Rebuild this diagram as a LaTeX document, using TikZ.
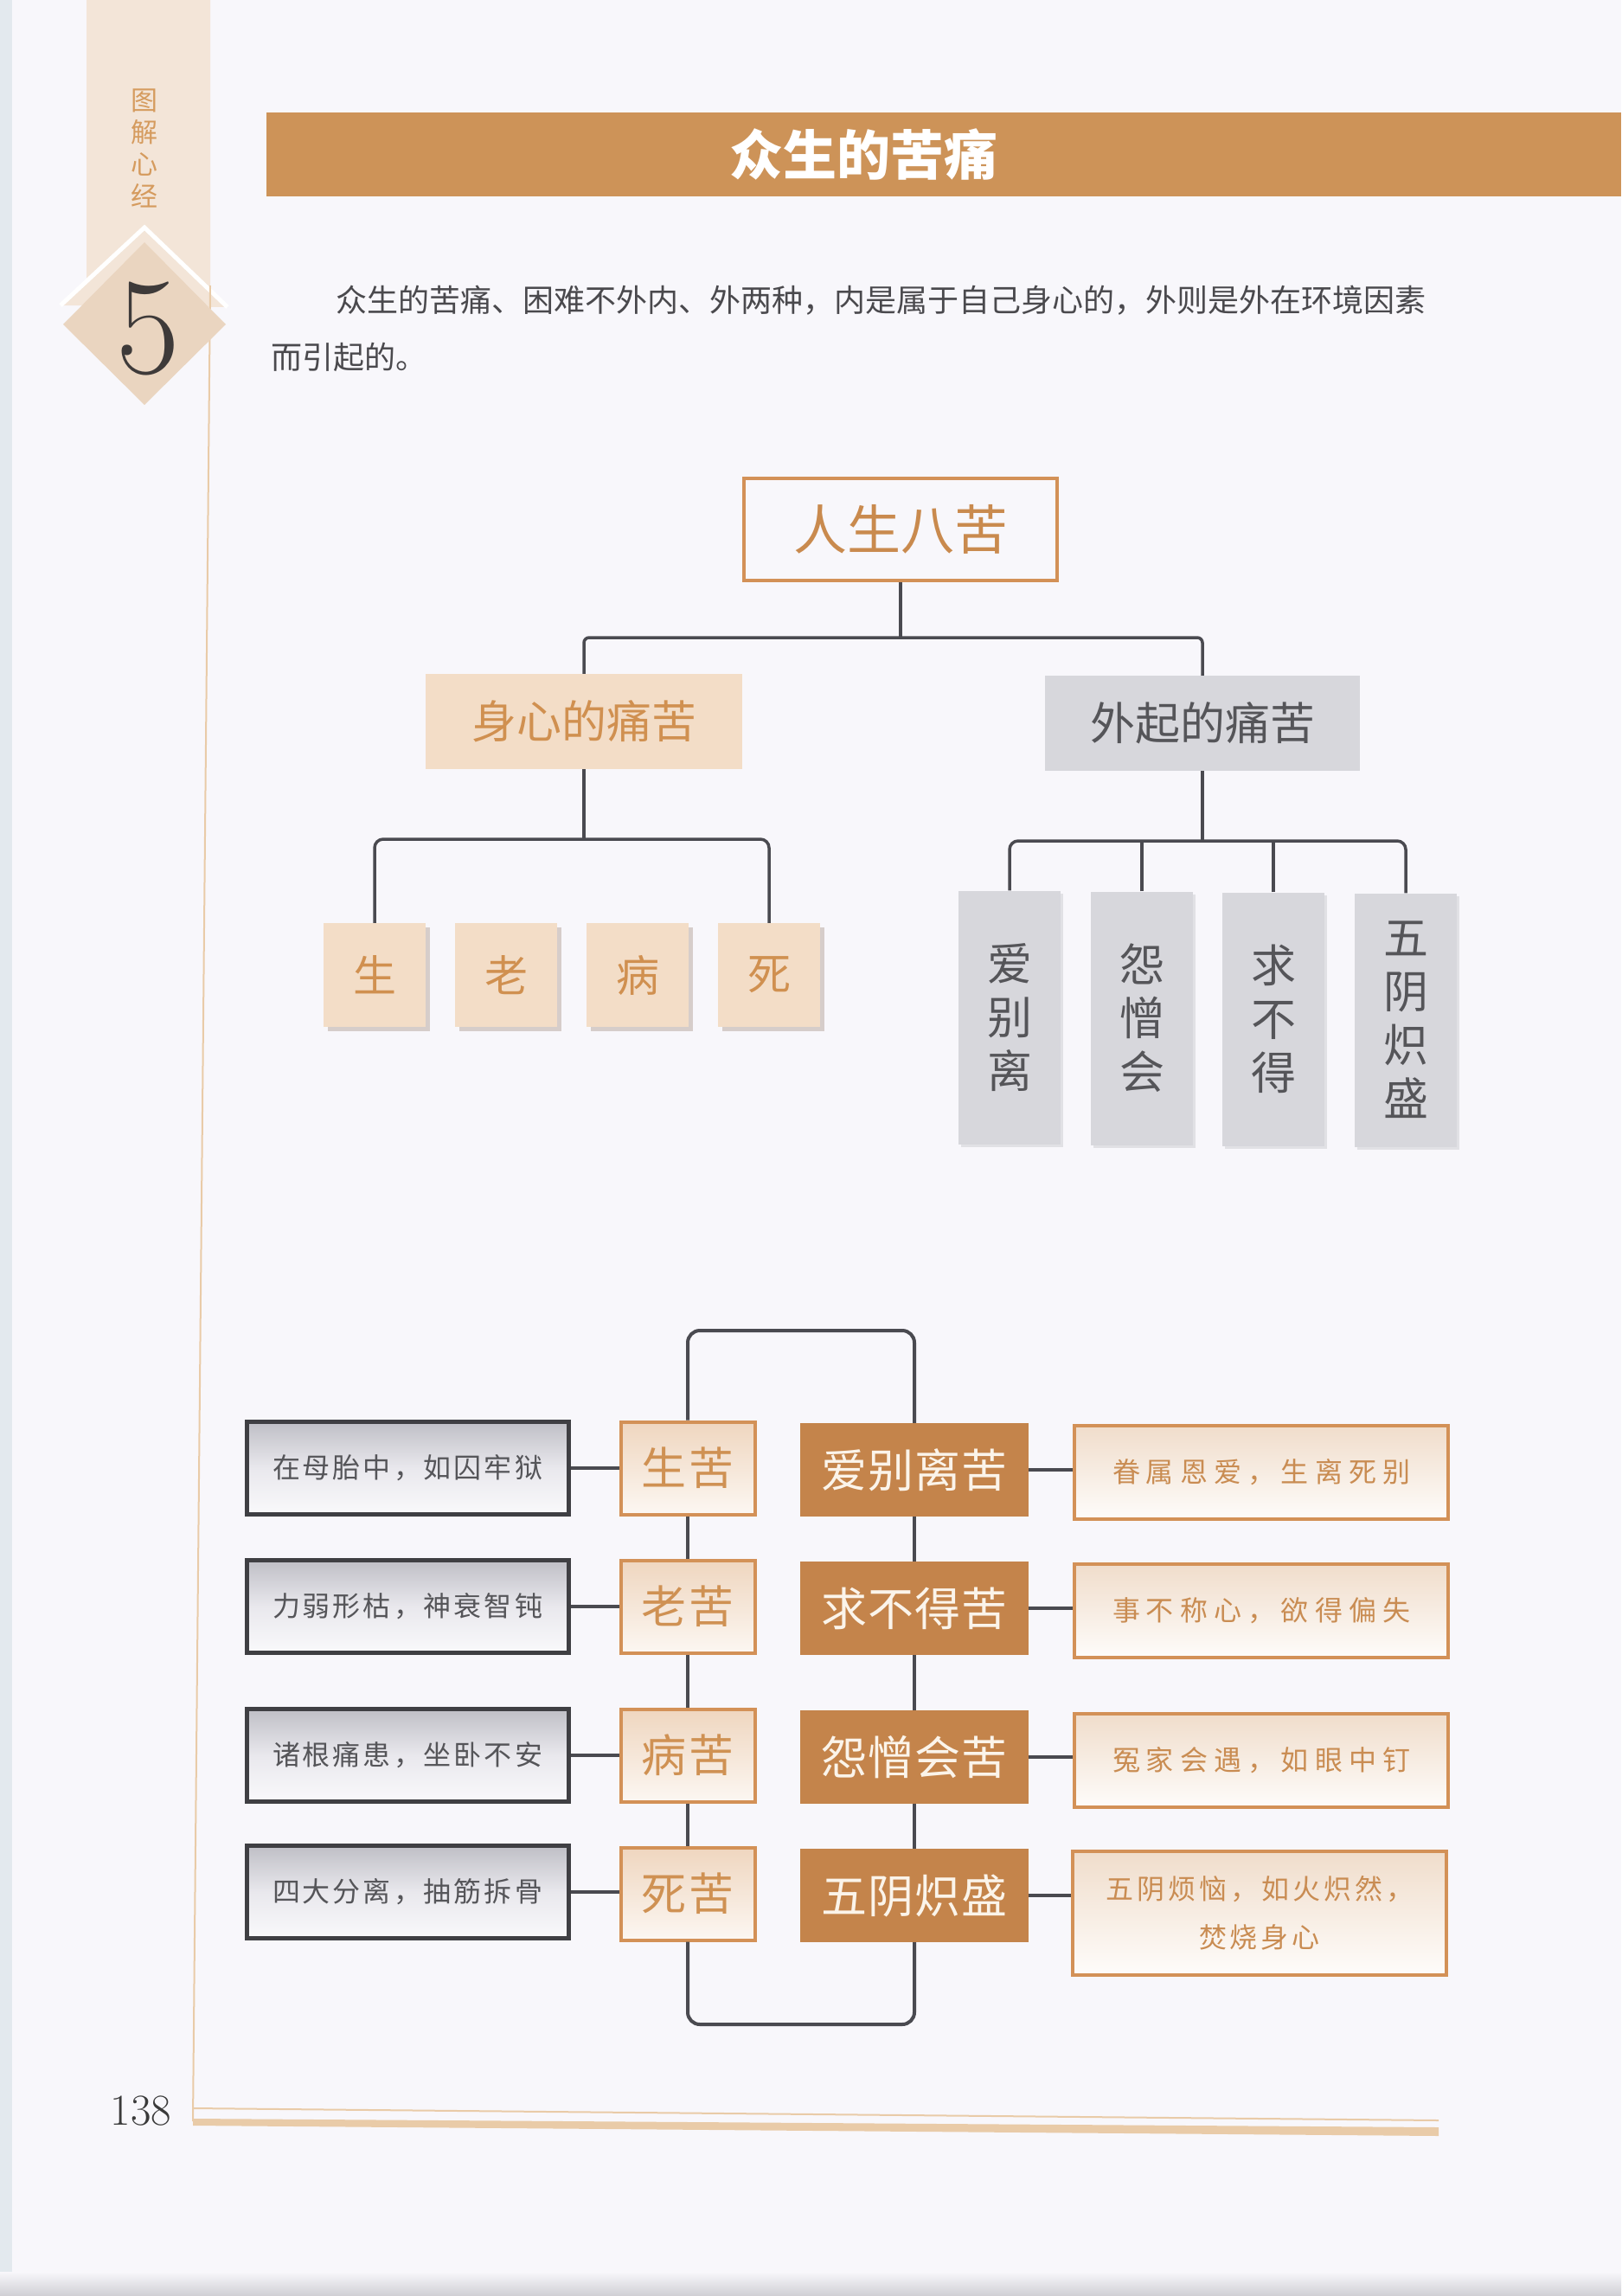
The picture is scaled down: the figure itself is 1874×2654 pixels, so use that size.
\documentclass[tikz,border=0pt]{standalone}
\usepackage{fontspec}
\newfontfamily\cjk{Noto Sans CJK SC}
\usetikzlibrary{shadows,calc}
\definecolor{bg}{HTML}{F8F7FB}
\definecolor{band}{HTML}{F3E5D8}
\definecolor{diam}{HTML}{EAD5C0}
\definecolor{fiveC}{HTML}{3E3A39}
\definecolor{oSide}{HTML}{D59B5E}
\definecolor{titleC}{HTML}{CD9358}
\definecolor{paraC}{HTML}{4A494D}
\definecolor{oB}{HTML}{D39157}
\definecolor{oT}{HTML}{C98A4E}
\definecolor{peach}{HTML}{F3DDC7}
\definecolor{oT2}{HTML}{D09050}
\definecolor{grayF}{HTML}{D7D7DC}
\definecolor{grayT}{HTML}{555559}
\definecolor{lineC}{HTML}{4A4A50}
\definecolor{shadC}{HTML}{D6CDCA}
\definecolor{lboxB}{HTML}{3F3F43}
\definecolor{lTop}{HTML}{BFBFC6}
\definecolor{lMid}{HTML}{E9E8ED}
\definecolor{lBot}{HTML}{F9F9FB}
\definecolor{sTop}{HTML}{EFD6BF}
\definecolor{sBot}{HTML}{FCF7F2}
\definecolor{sT}{HTML}{CF9153}
\definecolor{oFill}{HTML}{C4844B}
\definecolor{oTxt}{HTML}{FBF4EA}
\definecolor{rTop}{HTML}{F0DDCB}
\definecolor{rBot}{HTML}{FEFCFA}
\definecolor{rT}{HTML}{C98C52}
\definecolor{footC}{HTML}{E9CBA8}
\definecolor{numC}{HTML}{3A3A3A}
\definecolor{edgeC}{HTML}{E3E9EE}
\definecolor{scanC}{HTML}{CFCFD4}
\makeatletter
\newcommand\lsp[2]{\def\lsp@sep{\hspace{#1}}\@tfor\lsp@c:=#2\do{\lsp@c\lsp@sep}\unskip}
\makeatother
\newcommand\fsz[2]{\fontsize{#1}{#2}\selectfont}
\tikzset{
  conn/.style={draw=lineC, line width=4pt},
  tconn/.style={draw=lineC, line width=3.5pt},
  rootbox/.style={draw=oB, line width=4pt, fill=bg, minimum width=362pt, minimum height=118pt, inner sep=0pt, text=oT, font=\cjk\fsz{62}{62}},
  peachbox/.style={fill=peach, minimum width=366pt, minimum height=110pt, inner sep=0pt, text=oT2, font=\cjk\fsz{52}{52}},
  greybox/.style={fill=grayF, minimum width=364pt, minimum height=110pt, inner sep=0pt, text=grayT, font=\cjk\fsz{52}{52}},
  smallpeach/.style={fill=peach, minimum width=118pt, minimum height=120pt, inner sep=0pt, text=oT2, font=\cjk\fsz{50}{50},
    general shadow={shadow xshift=5pt, shadow yshift=-5pt, fill=shadC}},
  tallgrey/.style={fill=grayF, minimum width=118pt, minimum height=293pt, inner sep=0pt, text=grayT, align=center, font=\cjk\fsz{52}{62},
    general shadow={shadow xshift=3pt, shadow yshift=-3pt, fill=grayF!70!bg}},
  lbox/.style={draw=lboxB, line width=5pt, minimum width=372pt, minimum height=107pt, inner sep=0pt,
    top color=lTop, bottom color=lBot, middle color=lMid, text=grayT, font=\cjk\fsz{32}{32}},
  sbox/.style={draw=oB, line width=4pt, minimum width=155pt, minimum height=107pt, inner sep=0pt,
    top color=sTop, bottom color=sBot, text=sT, font=\cjk\fsz{52}{52}},
  obox/.style={fill=oFill, minimum width=264pt, minimum height=108pt, inner sep=0pt, text=oTxt, font=\cjk\fsz{53}{53}},
  rbox/.style={draw=oB, line width=4pt, minimum width=432pt, minimum height=108pt, inner sep=0pt, align=center,
    top color=rTop, bottom color=rBot, text=rT, font=\cjk\fsz{32}{56}},
}
\begin{document}
\begin{tikzpicture}[x=1pt,y=-1pt]
\useasboundingbox (0,0) rectangle (1874,2654);
\fill[bg] (0,0) rectangle (1874,2654);
\fill[edgeC] (0,0) rectangle (14,2654);
\shade[top color=bg, bottom color=scanC] (0,2626) rectangle (1874,2654);

% side band and chapter diamond
\fill[band] (100,0) -- (243,0) -- (243,334) -- (167,263) -- (100,322) -- cycle;
\fill[band] (70,353) -- (167,263) -- (263,355) -- cycle;
\draw[white, line width=5pt] (70,353) -- (167,263) -- (263,355);
\draw[footC, line width=2pt] (243,330) -- (223,2452);
\fill[diam] (167,280) -- (261,375) -- (167,468) -- (73,375) -- cycle;
\node[text=fiveC, inner sep=0pt, font=\fsz{160}{160}] (five) at (171,380) {5};
\node[text=oSide, align=center, inner sep=0pt, font=\cjk\fsz{31}{37}] (side) at (167,171) {图\\解\\心\\经};

% title bar
\fill[titleC] (308,130) rectangle (1874,227);
\node[text=white, inner sep=0pt, font=\cjk\bfseries\fsz{62}{62}] (title) at (998,179) {众生的苦痛};

% paragraph
\node[anchor=west, text=paraC, inner sep=0pt, font=\cjk\fsz{36}{36}] (p1) at (388,347)
  {众生的苦痛、困难不外内、外两种，内是属于自己身心的，外则是外在环境因素};
\node[anchor=west, text=paraC, inner sep=0pt, font=\cjk\fsz{36}{36}] (p2) at (313,413) {而引起的。};

% top tree
\node[rootbox] (root) at (1041,612) {人生八苦};
\node[peachbox] (shen) at (675,834) {身心的痛苦};
\node[greybox] (wai) at (1390,836) {外起的痛苦};
\node[smallpeach] (sheng) at (433,1127) {生};
\node[smallpeach] (lao) at (585,1127) {老};
\node[smallpeach] (bing) at (737,1127) {病};
\node[smallpeach] (si) at (889,1127) {死};
\node[tallgrey] (ai) at (1167,1176) {爱\\别\\离};
\node[tallgrey] (yuan) at (1320,1177) {怨\\憎\\会};
\node[tallgrey] (qiu) at (1472,1178) {求\\不\\得};
\node[tallgrey] (wu) at (1625,1179) {五\\阴\\炽\\盛};

\coordinate (j0) at (0,737);
\coordinate (j1) at (0,970);
\coordinate (j2) at (0,972);
\draw[tconn] (root.south) -- (root.south |- j0);
\draw[tconn, rounded corners=6pt] (shen.north) -- (shen.north |- j0) -- (wai.north |- j0) -- (wai.north);
\draw[tconn] (shen.south) -- (shen.south |- j1);
\draw[tconn, rounded corners=10pt] (sheng.north) -- (sheng.north |- j1) -- (si.north |- j1) -- (si.north);
\draw[tconn] (wai.south) -- (wai.south |- j2);
\draw[tconn, rounded corners=10pt] (ai.north) -- (ai.north |- j2) -- (wu.north |- j2) -- (wu.north);
\draw[tconn] (yuan.north) -- (yuan.north |- j2);
\draw[tconn] (qiu.north) -- (qiu.north |- j2);

% bottom chart
\node[lbox] (l1) at (471,1697) {\lsp{3pt}{在母胎中，如囚牢狱}};
\node[lbox] (l2) at (471,1857) {\lsp{3pt}{力弱形枯，神衰智钝}};
\node[lbox] (l3) at (471,2029) {\lsp{3pt}{诸根痛患，坐卧不安}};
\node[lbox] (l4) at (471,2187) {\lsp{3pt}{四大分离，抽筋拆骨}};

\node[sbox] (s1) at (795,1697) {\lsp{3pt}{生苦}};
\node[sbox] (s2) at (795,1857) {\lsp{3pt}{老苦}};
\node[sbox] (s3) at (795,2029) {\lsp{3pt}{病苦}};
\node[sbox] (s4) at (795,2189) {\lsp{3pt}{死苦}};

\node[obox] (o1) at (1057,1699) {\lsp{1pt}{爱别离苦}};
\node[obox] (o2) at (1057,1859) {\lsp{1pt}{求不得苦}};
\node[obox] (o3) at (1057,2031) {\lsp{1pt}{怨憎会苦}};
\node[obox] (o4) at (1057,2191) {\lsp{1pt}{五阴炽盛}};

\node[rbox] (r1) at (1458,1702) {\lsp{7pt}{眷属恩爱，生离死别}};
\node[rbox] (r2) at (1458,1862) {\lsp{7pt}{事不称心，欲得偏失}};
\node[rbox] (r3) at (1458,2035) {\lsp{7pt}{冤家会遇，如眼中钉}};
\node[rbox, minimum height=143pt] (r4) at (1456,2211) {\lsp{4pt}{五阴烦恼，如火炽然，}\\\lsp{4pt}{焚烧身心}};

\draw[conn] (l1.east) -- (s1.west);
\draw[conn] (l2.east) -- (s2.west);
\draw[conn] (l3.east) -- (s3.west);
\draw[conn] (l4.east) -- (l4.east -| s4.west);
\draw[conn] (o1.east) -- (o1.east -| r1.west);
\draw[conn] (o2.east) -- (o2.east -| r2.west);
\draw[conn] (o3.east) -- (o3.east -| r3.west);
\draw[conn] (o4.east) -- (o4.east -| r4.west);

\coordinate (lt) at (0,1538);
\coordinate (lb) at (0,2340);
\draw[conn, rounded corners=14pt] (s1.north) -- (s1.north |- lt) -- (o1.north |- lt) -- (o1.north);
\draw[conn] (s1.south) -- (s2.north);
\draw[conn] (s2.south) -- (s3.north);
\draw[conn] (s3.south) -- (s4.north);
\draw[conn] (o1.south) -- (o2.north);
\draw[conn] (o2.south) -- (o3.north);
\draw[conn] (o3.south) -- (o4.north);
\draw[conn, rounded corners=14pt] (s4.south) -- (s4.south |- lb) -- (o4.south |- lb) -- (o4.south);

% footer
\draw[footC, line width=2pt] (223,2437) -- (1663,2451);
\fill[footC] (223,2449) -- (1663,2459) -- (1663,2469) -- (223,2457) -- cycle;
\node[text=numC, inner sep=0pt, font=\fsz{51}{51}] (pg) at (163,2440) {138};
\end{tikzpicture}
\end{document}
